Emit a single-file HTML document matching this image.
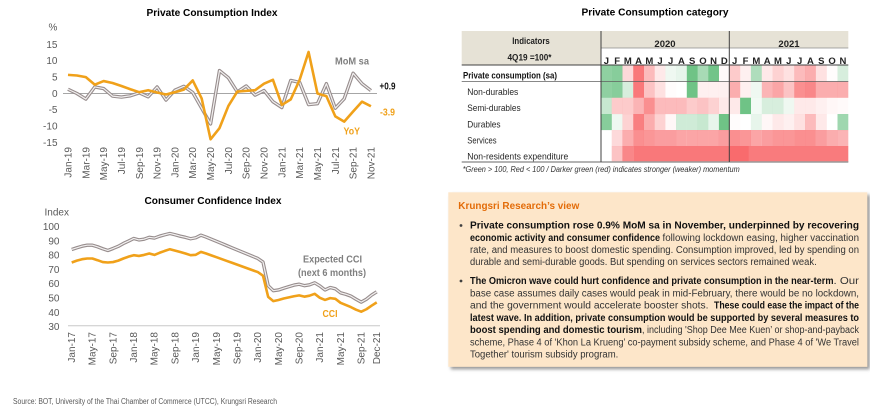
<!DOCTYPE html>
<html><head><meta charset="utf-8"><style>
body{margin:0;background:#fff}
svg{display:block}
text{font-family:"Liberation Sans",sans-serif}
.r{fill:#f8696b}.g{fill:#5fbc79}
.ax{fill:#595959;font-size:10px}
.b{font-weight:bold}
.tx{font-size:10px;fill:#333}
.tb{font-size:10px;fill:#111;font-weight:bold}
.rl{font-size:9.5px;fill:#262626}
</style></head><body>
<svg width="870" height="411" viewBox="0 0 870 411">
<defs>
<filter id="sh" x="-5%" y="-5%" width="110%" height="115%"><feDropShadow dx="2.5" dy="2.5" stdDeviation="1.5" flood-color="#7f7f7f" flood-opacity=".8"/></filter>
</defs>
<rect width="870" height="411" fill="#fff"/>

<!-- ===== Top-left: Private Consumption Index ===== -->
<text x="212" y="16" text-anchor="middle" class="b" font-size="10.5" textLength="131" lengthAdjust="spacingAndGlyphs">Private Consumption Index</text>
<text x="53" y="30.5" text-anchor="middle" class="ax">%</text>
<g class="ax" text-anchor="end">
<text x="57.5" y="47.8">15</text>
<text x="57.5" y="64.1">10</text>
<text x="57.5" y="80.5">5</text>
<text x="57.5" y="96.8">0</text>
<text x="57.5" y="113.1">-5</text>
<text x="57.5" y="129.5">-10</text>
<text x="57.5" y="145.8">-15</text>
</g>
<line x1="63" y1="93.5" x2="377" y2="93.5" stroke="#a6a6a6" stroke-width="1"/>
<g class="ax" text-anchor="end" font-size="10.5">
<text transform="translate(71.5,147) rotate(-90)">Jan-19</text>
<text transform="translate(89.3,147) rotate(-90)">Mar-19</text>
<text transform="translate(107.1,147) rotate(-90)">May-19</text>
<text transform="translate(125,147) rotate(-90)">Jul-19</text>
<text transform="translate(142.8,147) rotate(-90)">Sep-19</text>
<text transform="translate(160.6,147) rotate(-90)">Nov-19</text>
<text transform="translate(178.4,147) rotate(-90)">Jan-20</text>
<text transform="translate(196.2,147) rotate(-90)">Mar-20</text>
<text transform="translate(214.1,147) rotate(-90)">May-20</text>
<text transform="translate(231.9,147) rotate(-90)">Jul-20</text>
<text transform="translate(249.7,147) rotate(-90)">Sep-20</text>
<text transform="translate(267.5,147) rotate(-90)">Nov-20</text>
<text transform="translate(285.3,147) rotate(-90)">Jan-21</text>
<text transform="translate(303.2,147) rotate(-90)">Mar-21</text>
<text transform="translate(321,147) rotate(-90)">May-21</text>
<text transform="translate(338.8,147) rotate(-90)">Jul-21</text>
<text transform="translate(356.6,147) rotate(-90)">Sep-21</text>
<text transform="translate(374.4,147) rotate(-90)">Nov-21</text>
</g>
<g transform="translate(68,93.5) scale(8.91,-3.27)" fill="none" stroke-linejoin="round">
<polyline vector-effect="non-scaling-stroke" stroke="#978d8d" stroke-width="3.4" points="0,1.3 1,0 2,-1.7 3,2 4,1.5 5,-0.8 6,-1.1 7,-0.7 8,0.2 9,-1 10,2 11,-2 12,1 13,2.2 14,0.3 15,-4.5 16,-9.3 17,7 18,4.8 19,0.5 20,2.3 21,-0.5 22,0.9 23,-2.5 24,-4.3 25,4 26,3.4 27,-3.4 28,-3.1 29,3 30,-4.5 31,-1.6 32,6.2 33,3 34,0.9"/>
<polyline vector-effect="non-scaling-stroke" stroke="#f2f0f0" stroke-width="1.2" points="0,1.3 1,0 2,-1.7 3,2 4,1.5 5,-0.8 6,-1.1 7,-0.7 8,0.2 9,-1 10,2 11,-2 12,1 13,2.2 14,0.3 15,-4.5 16,-9.3 17,7 18,4.8 19,0.5 20,2.3 21,-0.5 22,0.9 23,-2.5 24,-4.3 25,4 26,3.4 27,-3.4 28,-3.1 29,3 30,-4.5 31,-1.6 32,6.2 33,3 34,0.9"/>
<polyline vector-effect="non-scaling-stroke" stroke="#f0a11a" stroke-width="2.6" points="0,5.7 1,5.5 2,5 3,2.7 4,3.8 5,3.2 6,2.3 7,1.3 8,0.4 9,1 10,0.3 11,-0.3 12,0.4 13,1.2 14,4 15,-1.5 16,-14 17,-10.6 18,-3.8 19,0.6 20,0.8 21,1 22,3 23,4.2 24,-3.5 25,-1.8 26,4.2 27,12.7 28,0 29,-0.8 30,-7 31,-8.6 32,-5.5 33,-2.5 34,-3.9"/>
</g>
<text x="352" y="64.5" text-anchor="middle" class="b" font-size="10.5" fill="#7f7f7f" textLength="34" lengthAdjust="spacingAndGlyphs">MoM sa</text>
<text x="379.5" y="89.5" class="b" font-size="10.5" fill="#111" textLength="16" lengthAdjust="spacingAndGlyphs">+0.9</text>
<text x="380" y="115.5" class="b" font-size="10.5" fill="#f0a11a" textLength="15" lengthAdjust="spacingAndGlyphs">-3.9</text>
<text x="343.5" y="134.5" class="b" font-size="10.5" fill="#f0a11a" textLength="16.5" lengthAdjust="spacingAndGlyphs">YoY</text>

<!-- ===== Bottom-left: Consumer Confidence Index ===== -->
<text x="213" y="204" text-anchor="middle" class="b" font-size="10.5" textLength="137" lengthAdjust="spacingAndGlyphs">Consumer Confidence Index</text>
<text x="44.5" y="215.5" class="ax" font-size="9.5">Index</text>
<g class="ax" text-anchor="end">
<text x="59.5" y="230">100</text>
<text x="59.5" y="244.3">90</text>
<text x="59.5" y="258.6">80</text>
<text x="59.5" y="272.9">70</text>
<text x="59.5" y="287.2">60</text>
<text x="59.5" y="301.5">50</text>
<text x="59.5" y="315.8">40</text>
<text x="59.5" y="330.1">30</text>
</g>
<line x1="68" y1="325.7" x2="380" y2="325.7" stroke="#c8c8c8" stroke-width="1"/>
<g class="ax" text-anchor="end" font-size="10.5">
<text transform="translate(75,332) rotate(-90)">Jan-17</text>
<text transform="translate(95.7,332) rotate(-90)">May-17</text>
<text transform="translate(116.4,332) rotate(-90)">Sep-17</text>
<text transform="translate(137.1,332) rotate(-90)">Jan-18</text>
<text transform="translate(157.7,332) rotate(-90)">May-18</text>
<text transform="translate(178.4,332) rotate(-90)">Sep-18</text>
<text transform="translate(199.1,332) rotate(-90)">Jan-19</text>
<text transform="translate(219.8,332) rotate(-90)">May-19</text>
<text transform="translate(240.5,332) rotate(-90)">Sep-19</text>
<text transform="translate(261.1,332) rotate(-90)">Jan-20</text>
<text transform="translate(281.8,332) rotate(-90)">May-20</text>
<text transform="translate(302.5,332) rotate(-90)">Sep-20</text>
<text transform="translate(323.2,332) rotate(-90)">Jan-21</text>
<text transform="translate(343.9,332) rotate(-90)">May-21</text>
<text transform="translate(364.5,332) rotate(-90)">Sep-21</text>
<text transform="translate(380,332) rotate(-90)">Dec-21</text>
</g>
<g transform="translate(71.7,368.6) scale(5.17,-1.43)" fill="none" stroke-linejoin="round">
<polyline vector-effect="non-scaling-stroke" stroke="#978d8d" stroke-width="3.4" points="0,83.3 1,84.5 2,85.6 3,86.3 4,86.3 5,85.2 6,83.8 7,82.6 8,84 9,85.5 10,87.5 11,89.2 12,91 13,90 14,90.5 15,91.8 16,91.3 17,92.6 18,93.6 19,94.5 20,93.6 21,92.6 22,91.8 23,90.8 24,91.5 25,93.3 26,92 27,90.5 28,89 29,87.5 30,86 31,84.5 32,83 33,81.5 34,80 35,78.5 36,77 37,74.5 38,58 39,54.5 40,55 41,56.2 42,57.3 43,58.4 44,59 45,58 46,58.6 47,60 48,57.8 49,55 50,56.7 51,55.8 52,53 53,52 54,50.7 55,48.5 56,46.5 57,48.5 58,51.4 59,53.7"/>
<polyline vector-effect="non-scaling-stroke" stroke="#f2f0f0" stroke-width="1.2" points="0,83.3 1,84.5 2,85.6 3,86.3 4,86.3 5,85.2 6,83.8 7,82.6 8,84 9,85.5 10,87.5 11,89.2 12,91 13,90 14,90.5 15,91.8 16,91.3 17,92.6 18,93.6 19,94.5 20,93.6 21,92.6 22,91.8 23,90.8 24,91.5 25,93.3 26,92 27,90.5 28,89 29,87.5 30,86 31,84.5 32,83 33,81.5 34,80 35,78.5 36,77 37,74.5 38,58 39,54.5 40,55 41,56.2 42,57.3 43,58.4 44,59 45,58 46,58.6 47,60 48,57.8 49,55 50,56.7 51,55.8 52,53 53,52 54,50.7 55,48.5 56,46.5 57,48.5 58,51.4 59,53.7"/>
<polyline vector-effect="non-scaling-stroke" stroke="#f0a11a" stroke-width="2.6" points="0,74.2 1,75.5 2,76.5 3,77 4,77 5,75.8 6,74.5 7,74.2 8,74.5 9,75.5 10,77 11,78.3 12,79.3 13,78.8 14,79.5 15,80.5 16,79.5 17,81 18,82.3 19,83.5 20,82.5 21,81.5 22,80.5 23,79.3 24,79.6 25,81.6 26,80.5 27,79.2 28,77.9 29,76.6 30,75.3 31,74 32,72.7 33,71.4 34,70.1 35,68.8 36,67.5 37,65 38,50.2 39,47.2 40,48 41,49 42,49.8 43,50.6 44,51.2 45,50.3 46,51 47,52.3 48,49.5 49,48 50,49.3 51,48.8 52,46 53,44.5 54,43 55,41.2 56,39.8 57,41.5 58,44 59,46.3"/>
</g>
<text x="332.5" y="262.5" text-anchor="middle" class="b" font-size="10.5" fill="#7f7f7f" textLength="59" lengthAdjust="spacingAndGlyphs">Expected CCI</text>
<text x="332" y="276" text-anchor="middle" class="b" font-size="10.5" fill="#7f7f7f" textLength="68" lengthAdjust="spacingAndGlyphs">(next 6 months)</text>
<text x="330" y="317" text-anchor="middle" class="b" font-size="10.5" fill="#f0a11a" textLength="15" lengthAdjust="spacingAndGlyphs">CCI</text>

<text x="13" y="404" font-size="8" fill="#595959" textLength="264" lengthAdjust="spacingAndGlyphs">Source: BOT, University of the Thai Chamber of Commerce (UTCC), Krungsri Research</text>

<!-- ===== Top-right: heatmap ===== -->
<text x="655" y="15.5" text-anchor="middle" class="b" font-size="10.5" textLength="147" lengthAdjust="spacingAndGlyphs">Private Consumption category</text>
<rect x="461.7" y="31" width="386.6" height="17" fill="#e6e2d6"/>
<rect x="461.7" y="48" width="139.3" height="17" fill="#e6e2d6"/>

<g transform="translate(0,65)">
<rect x="601" width="10.8" height="16.6" class="g" opacity=".7"/>
<rect x="611.7" width="10.8" height="16.6" class="g" opacity=".75"/>
<rect x="622.4" width="10.8" height="16.6" class="r" opacity=".25"/>
<rect x="633.2" width="10.8" height="16.6" class="r" opacity=".9"/>
<rect x="643.9" width="10.8" height="16.6" class="r" opacity=".45"/>
<rect x="654.6" width="10.8" height="16.6" class="r" opacity=".15"/>
<rect x="665.3" width="10.8" height="16.6" class="g" opacity=".1"/>
<rect x="676" width="10.8" height="16.6" class="g" opacity=".15"/>
<rect x="686.8" width="10.8" height="16.6" class="g" opacity=".9"/>
<rect x="697.5" width="10.8" height="16.6" class="g" opacity=".55"/>
<rect x="708.2" width="10.8" height="16.6" class="g" opacity=".88"/>
<rect x="718.9" width="10.8" height="16.6" class="r" opacity=".03"/>
<rect x="729.3" width="10.9" height="16.6" class="r" opacity=".35"/>
<rect x="740.1" width="10.9" height="16.6" class="r" opacity=".1"/>
<rect x="750.9" width="10.9" height="16.6" class="g" opacity=".5"/>
<rect x="761.8" width="10.9" height="16.6" class="r" opacity=".15"/>
<rect x="772.6" width="10.9" height="16.6" class="r" opacity=".3"/>
<rect x="783.4" width="10.9" height="16.6" class="r" opacity=".2"/>
<rect x="794.2" width="10.9" height="16.6" class="r" opacity=".45"/>
<rect x="805" width="10.9" height="16.6" class="r" opacity=".55"/>
<rect x="815.9" width="10.9" height="16.6" class="r" opacity=".2"/>
<rect x="826.7" width="10.9" height="16.6" class="r" opacity=".02"/>
<rect x="837.5" width="10.8" height="16.6" class="g" opacity=".25"/>
</g>
<g transform="translate(0,81.5)">
<rect x="601" width="10.8" height="16.3" class="g" opacity=".7"/>
<rect x="611.7" width="10.8" height="16.3" class="g" opacity=".75"/>
<rect x="622.4" width="10.8" height="16.3" class="g" opacity=".25"/>
<rect x="633.2" width="10.8" height="16.3" class="r" opacity=".9"/>
<rect x="643.9" width="10.8" height="16.3" class="r" opacity=".4"/>
<rect x="654.6" width="10.8" height="16.3" class="r" opacity=".2"/>
<rect x="665.3" width="10.8" height="16.3" class="r" opacity=".02"/>
<rect x="686.8" width="10.8" height="16.3" class="g" opacity=".9"/>
<rect x="697.5" width="10.8" height="16.3" class="r" opacity=".1"/>
<rect x="708.2" width="10.8" height="16.3" class="r" opacity=".1"/>
<rect x="718.9" width="10.8" height="16.3" class="r" opacity=".1"/>
<rect x="729.3" width="10.9" height="16.3" class="r" opacity=".55"/>
<rect x="740.1" width="10.9" height="16.3" class="r" opacity=".1"/>
<rect x="750.9" width="10.9" height="16.3" class="g" opacity=".1"/>
<rect x="761.8" width="10.9" height="16.3" class="r" opacity=".5"/>
<rect x="772.6" width="10.9" height="16.3" class="r" opacity=".6"/>
<rect x="783.4" width="10.9" height="16.3" class="r" opacity=".4"/>
<rect x="794.2" width="10.9" height="16.3" class="r" opacity=".75"/>
<rect x="805" width="10.9" height="16.3" class="r" opacity=".8"/>
<rect x="815.9" width="10.9" height="16.3" class="r" opacity=".55"/>
<rect x="826.7" width="10.9" height="16.3" class="r" opacity=".55"/>
<rect x="837.5" width="10.8" height="16.3" class="r" opacity=".55"/>
</g>
<g transform="translate(0,97.7)">
<rect x="601" width="10.8" height="16.4" class="g" opacity=".35"/>
<rect x="611.7" width="10.8" height="16.4" class="r" opacity=".35"/>
<rect x="622.4" width="10.8" height="16.4" class="r" opacity=".35"/>
<rect x="633.2" width="10.8" height="16.4" class="r" opacity=".5"/>
<rect x="643.9" width="10.8" height="16.4" class="r" opacity=".75"/>
<rect x="654.6" width="10.8" height="16.4" class="r" opacity=".45"/>
<rect x="665.3" width="10.8" height="16.4" class="r" opacity=".45"/>
<rect x="676" width="10.8" height="16.4" class="r" opacity=".45"/>
<rect x="686.8" width="10.8" height="16.4" class="r" opacity=".35"/>
<rect x="697.5" width="10.8" height="16.4" class="r" opacity=".4"/>
<rect x="708.2" width="10.8" height="16.4" class="r" opacity=".3"/>
<rect x="718.9" width="10.8" height="16.4" class="r" opacity=".15"/>
<rect x="729.3" width="10.9" height="16.4" class="r" opacity=".15"/>
<rect x="740.1" width="10.9" height="16.4" class="g" opacity=".9"/>
<rect x="750.9" width="10.9" height="16.4" class="g" opacity=".08"/>
<rect x="761.8" width="10.9" height="16.4" class="g" opacity=".25"/>
<rect x="772.6" width="10.9" height="16.4" class="g" opacity=".25"/>
<rect x="783.4" width="10.9" height="16.4" class="g" opacity=".1"/>
<rect x="794.2" width="10.9" height="16.4" class="r" opacity=".15"/>
<rect x="805" width="10.9" height="16.4" class="r" opacity=".15"/>
<rect x="815.9" width="10.9" height="16.4" class="r" opacity=".1"/>
<rect x="826.7" width="10.9" height="16.4" class="r" opacity=".05"/>
<rect x="837.5" width="10.8" height="16.4" class="r" opacity=".03"/>
</g>
<g transform="translate(0,114)">
<rect x="601" width="10.8" height="16.1" class="g" opacity=".75"/>
<rect x="611.7" width="10.8" height="16.1" class="g" opacity=".1"/>
<rect x="622.4" width="10.8" height="16.1" class="r" opacity=".3"/>
<rect x="633.2" width="10.8" height="16.1" class="r" opacity=".85"/>
<rect x="643.9" width="10.8" height="16.1" class="r" opacity=".55"/>
<rect x="654.6" width="10.8" height="16.1" class="r" opacity=".3"/>
<rect x="665.3" width="10.8" height="16.1" class="r" opacity=".05"/>
<rect x="676" width="10.8" height="16.1" class="g" opacity=".3"/>
<rect x="686.8" width="10.8" height="16.1" class="g" opacity=".3"/>
<rect x="697.5" width="10.8" height="16.1" class="g" opacity=".35"/>
<rect x="708.2" width="10.8" height="16.1" class="g" opacity=".15"/>
<rect x="718.9" width="10.8" height="16.1" class="g" opacity=".9"/>
<rect x="729.3" width="10.9" height="16.1" class="r" opacity=".02"/>
<rect x="750.9" width="10.9" height="16.1" class="g" opacity=".15"/>
<rect x="761.8" width="10.9" height="16.1" class="r" opacity=".05"/>
<rect x="772.6" width="10.9" height="16.1" class="r" opacity=".15"/>
<rect x="783.4" width="10.9" height="16.1" class="r" opacity=".1"/>
<rect x="794.2" width="10.9" height="16.1" class="r" opacity=".2"/>
<rect x="805" width="10.9" height="16.1" class="r" opacity=".45"/>
<rect x="815.9" width="10.9" height="16.1" class="r" opacity=".15"/>
<rect x="837.5" width="10.8" height="16.1" class="g" opacity=".6"/>
</g>
<g transform="translate(0,130)">
<rect x="611.7" width="10.8" height="16.1" class="r" opacity=".25"/>
<rect x="622.4" width="10.8" height="16.1" class="r" opacity=".55"/>
<rect x="633.2" width="10.8" height="16.1" class="r" opacity=".75"/>
<rect x="643.9" width="10.8" height="16.1" class="r" opacity=".7"/>
<rect x="654.6" width="10.8" height="16.1" class="r" opacity=".65"/>
<rect x="665.3" width="10.8" height="16.1" class="r" opacity=".65"/>
<rect x="676" width="10.8" height="16.1" class="r" opacity=".6"/>
<rect x="686.8" width="10.8" height="16.1" class="r" opacity=".6"/>
<rect x="697.5" width="10.8" height="16.1" class="r" opacity=".6"/>
<rect x="708.2" width="10.8" height="16.1" class="r" opacity=".6"/>
<rect x="718.9" width="10.8" height="16.1" class="r" opacity=".65"/>
<rect x="729.3" width="10.9" height="16.1" class="r" opacity=".75"/>
<rect x="740.1" width="10.9" height="16.1" class="r" opacity=".7"/>
<rect x="750.9" width="10.9" height="16.1" class="r" opacity=".6"/>
<rect x="761.8" width="10.9" height="16.1" class="r" opacity=".65"/>
<rect x="772.6" width="10.9" height="16.1" class="r" opacity=".7"/>
<rect x="783.4" width="10.9" height="16.1" class="r" opacity=".7"/>
<rect x="794.2" width="10.9" height="16.1" class="r" opacity=".75"/>
<rect x="805" width="10.9" height="16.1" class="r" opacity=".75"/>
<rect x="815.9" width="10.9" height="16.1" class="r" opacity=".65"/>
<rect x="826.7" width="10.9" height="16.1" class="r" opacity=".55"/>
<rect x="837.5" width="10.8" height="16.1" class="r" opacity=".5"/>
</g>
<g transform="translate(0,146)">
<rect x="611.7" width="10.8" height="16" class="r" opacity=".4"/>
<rect x="622.4" width="10.8" height="16" class="r" opacity=".8"/>
<rect x="633.2" width="115.5" height="16" class="r" opacity=".9"/>
<rect x="729.3" width="119" height="16" class="r" opacity=".88"/>
</g>

<line x1="601" y1="48" x2="848.3" y2="48" stroke="#8c8c8c" stroke-width=".8"/>
<line x1="461.7" y1="65" x2="848.3" y2="65" stroke="#404040" stroke-width="1"/>
<line x1="461.7" y1="81.5" x2="848.3" y2="81.5" stroke="#606060" stroke-width=".8"/>
<line x1="461.7" y1="162" x2="848.3" y2="162" stroke="#9a9a9a" stroke-width="1.5"/>
<line x1="601" y1="31" x2="601" y2="162" stroke="#404040" stroke-width="1"/>
<line x1="729.3" y1="31" x2="729.3" y2="162" stroke="#404040" stroke-width="1"/>

<text x="531" y="44" text-anchor="middle" class="b" font-size="9.5" fill="#222" textLength="37.5" lengthAdjust="spacingAndGlyphs">Indicators</text>
<text x="529.5" y="60.5" text-anchor="middle" class="b" font-size="9" fill="#222" textLength="44" lengthAdjust="spacingAndGlyphs">4Q19 =100*</text>
<text x="665" y="47" text-anchor="middle" class="b" font-size="9.5" fill="#222">2020</text>
<text x="789" y="47" text-anchor="middle" class="b" font-size="9.5" fill="#222">2021</text>
<g class="b" font-size="9.5" fill="#222" text-anchor="middle">
<text x="606.4" y="64">J</text><text x="617.1" y="64">F</text><text x="627.8" y="64">M</text><text x="638.6" y="64">A</text><text x="649.3" y="64">M</text><text x="660" y="64">J</text><text x="670.7" y="64">J</text><text x="681.4" y="64">A</text><text x="692.2" y="64">S</text><text x="702.9" y="64">O</text><text x="713.6" y="64">N</text><text x="724.3" y="64">D</text>
<text x="734.7" y="64">J</text><text x="745.5" y="64">F</text><text x="756.3" y="64">M</text><text x="767.2" y="64">A</text><text x="778" y="64">M</text><text x="788.8" y="64">J</text><text x="799.6" y="64">J</text><text x="810.4" y="64">A</text><text x="821.3" y="64">S</text><text x="832.1" y="64">O</text><text x="842.9" y="64">N</text>
</g>
<text x="463" y="78.5" class="b" font-size="9.5" fill="#111" textLength="94" lengthAdjust="spacingAndGlyphs">Private consumption (sa)</text>
<text x="467.3" y="95" class="rl" textLength="51" lengthAdjust="spacingAndGlyphs">Non-durables</text>
<text x="467.3" y="111.2" class="rl" textLength="53.3" lengthAdjust="spacingAndGlyphs">Semi-durables</text>
<text x="467.3" y="127.5" class="rl" textLength="33.3" lengthAdjust="spacingAndGlyphs">Durables</text>
<text x="467.3" y="143.5" class="rl" textLength="29.3" lengthAdjust="spacingAndGlyphs">Services</text>
<text x="467.3" y="159.5" class="rl" textLength="101" lengthAdjust="spacingAndGlyphs">Non-residents expenditure</text>
<text x="462.7" y="172" font-size="8" font-style="italic" fill="#333" textLength="277" lengthAdjust="spacingAndGlyphs">*Green &gt; 100, Red &lt; 100 / Darker green (red) indicates stronger (weaker) momentum</text>

<!-- ===== Bottom-right: text box ===== -->
<rect x="448.3" y="192.3" width="419" height="174.5" fill="#fde6c9" filter="url(#sh)"/>
<text x="458.3" y="209" class="b" font-size="10.5" fill="#e36c09" textLength="121" lengthAdjust="spacingAndGlyphs">Krungsri Research’s view</text>
<circle cx="461" cy="225.5" r="1.4" fill="#404040"/>
<circle cx="461" cy="281" r="1.4" fill="#404040"/>

<text x="470" y="228.5" class="tb" textLength="389" lengthAdjust="spacingAndGlyphs">Private consumption rose 0.9% MoM sa in November, underpinned by recovering</text>
<text x="470" y="240.8" class="tb" textLength="190" lengthAdjust="spacingAndGlyphs">economic activity and consumer confidence</text>
<text x="662.5" y="240.8" class="tx" textLength="196.5" lengthAdjust="spacingAndGlyphs">following lockdown easing, higher vaccination</text>
<text x="470" y="253" class="tx" textLength="389" lengthAdjust="spacingAndGlyphs">rate, and measures to boost domestic spending. Consumption improved, led by spending on</text>
<text x="470" y="265.2" class="tx" textLength="346.7" lengthAdjust="spacingAndGlyphs">durable and semi-durable goods. But spending on services sectors remained weak.</text>

<text x="470" y="284" class="tb" textLength="363.5" lengthAdjust="spacingAndGlyphs">The Omicron wave could hurt confidence and private consumption in the near-term</text>
<text x="833.5" y="284" class="tx" textLength="25.5" lengthAdjust="spacingAndGlyphs">. Our</text>
<text x="470" y="296.3" class="tx" textLength="389" lengthAdjust="spacingAndGlyphs">base case assumes daily cases would peak in mid-February, there would be no lockdown,</text>
<text x="470" y="308.5" class="tx" textLength="238.5" lengthAdjust="spacingAndGlyphs">and the government would accelerate booster shots.</text>
<text x="714" y="308.5" class="tb" textLength="145" lengthAdjust="spacingAndGlyphs">These could ease the impact of the</text>
<text x="470" y="320.8" class="tb" textLength="389" lengthAdjust="spacingAndGlyphs">latest wave. In addition, private consumption would be supported by several measures to</text>
<text x="470" y="333" class="tb" textLength="172" lengthAdjust="spacingAndGlyphs">boost spending and domestic tourism</text>
<text x="642" y="333" class="tx" textLength="217" lengthAdjust="spacingAndGlyphs">, including 'Shop Dee Mee Kuen’ or shop-and-payback</text>
<text x="470" y="345.3" class="tx" textLength="389" lengthAdjust="spacingAndGlyphs">scheme, Phase 4 of 'Khon La Krueng’ co-payment subsidy scheme, and Phase 4 of 'We Travel</text>
<text x="470" y="357.5" class="tx" textLength="148.3" lengthAdjust="spacingAndGlyphs">Together' tourism subsidy program.</text>
</svg>
</body></html>
